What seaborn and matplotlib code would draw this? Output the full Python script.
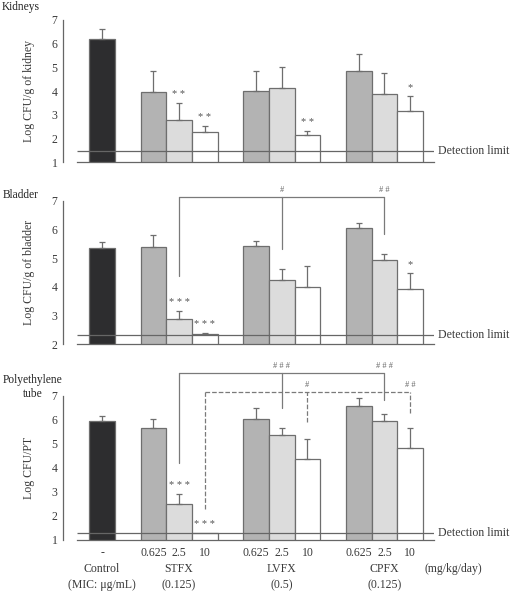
import numpy as np
import pandas as pd
import matplotlib.pyplot as plt
import seaborn as sns

sns.set_style('white')
plt.rcParams['font.family'] = ['Liberation Serif', 'DejaVu Serif']

# ---- data ----
drugs = ['Control', 'STFX', 'LVFX', 'CPFX']
mic_labels = ['(MIC: μg/mL)', '(0.125)', '(0.5)', '(0.125)']
bar_groups = ['Control', 'STFX', 'STFX', 'STFX', 'LVFX', 'LVFX', 'LVFX', 'CPFX', 'CPFX', 'CPFX']
bar_doses = ['-', '0.625', '2.5', '10', '0.625', '2.5', '10', '0.625', '2.5', '10']

kidney_mean = [6.18, 3.95, 2.80, 2.27, 4.02, 4.12, 2.14, 4.85, 3.90, 3.17]
kidney_err = [0.46, 0.92, 0.72, 0.25, 0.85, 0.91, 0.18, 0.72, 0.88, 0.63]
kidney_stars = ['', '', '* *', '* *', '', '', '* *', '', '', '*']

bladder_mean = [5.36, 5.39, 2.87, 2.35, 5.41, 4.23, 4.00, 6.04, 4.92, 3.93]
bladder_err = [0.21, 0.40, 0.29, 0.06, 0.17, 0.40, 0.71, 0.17, 0.24, 0.54]
bladder_stars = ['', '', '* * *', '* * *', '', '', '', '', '', '*']

pt_mean = [5.95, 5.64, 2.48, 1.30, 6.02, 5.35, 4.35, 6.57, 5.95, 4.84]
pt_err = [0.22, 0.40, 0.45, 0.00, 0.48, 0.32, 0.83, 0.35, 0.28, 0.80]
pt_stars = ['', '', '* * *', '* * *', '', '', '', '', '', '']

detection_limits = [1.48, 2.31, 1.30]

# brackets: (bar indices, top y, leg bottoms, marks, linestyle)
bladder_brackets = [([2, 5, 8], 7.14, [4.39, 5.32, 5.83], ['', '#', '# #'], '-')]
pt_brackets = [([2, 5, 8], 7.93, [4.19, 6.50, 6.81], ['', '# # #', '# # #'], '-'),
               ([3, 6, 9], 7.17, [2.29, 5.92, 6.29], ['', '#', '# #'], '--')]

dose_colors = {'-': '#2c2c30', '0.625': '#b3b3b3', '2.5': '#dcdcdc', '10': '#ffffff'}
EDGE = '#6e6e6e'
LINE = '#666666'
TEXT = '#3a3a3a'
FS = 8.5

keys = [f'{g}|{d}' for g, d in zip(bar_groups, bar_doses)]
order = []
for i, k in enumerate(keys):
    if i > 0 and bar_groups[i] != bar_groups[i - 1]:
        order.append(f'gap{i}')
    order.append(k)
palette = {k: dose_colors[d] for k, d in zip(keys, bar_doses)}
xs = [order.index(k) for k in keys]

XMIN, XLINE, XMAX = -1.52, -0.97, 12.93


def draw_panel(ax, mean, err, stars, ylim, limit, ylabel, brackets):
    df = pd.DataFrame({'bar': keys, 'value': mean})
    sns.barplot(data=df, x='bar', y='value', order=order, hue='bar', palette=palette,
                legend=False, width=1.0, errorbar=None, edgecolor=EDGE, linewidth=0.9,
                ax=ax)
    for x, m, e, s in zip(xs, mean, err, stars):
        if e > 0:
            ax.errorbar(x, m, yerr=[[0], [e]], fmt='none', ecolor=EDGE, elinewidth=0.9,
                        capsize=2.5, capthick=0.9, zorder=3)
        if s:
            ax.annotate(s, (x, m + e), xytext=(0, 6), textcoords='offset points',
                        ha='center', va='center', fontsize=7.5, color='#555555')

    for idx, top, legs, marks, ls in brackets:
        bx = [xs[i] for i in idx]
        ax.plot([bx[0], bx[-1]], [top, top], color='#7a7a7a', lw=0.9, ls=ls,
                clip_on=False, zorder=4)
        for x, b, mk in zip(bx, legs, marks):
            ax.plot([x, x], [b, top], color='#7a7a7a', lw=0.9, ls=ls, clip_on=False, zorder=4)
            if mk:
                ax.annotate(mk, (x, top), xytext=(0, 5), textcoords='offset points',
                            ha='center', va='center', fontsize=6, color='#666666',
                            annotation_clip=False)

    ax.hlines(limit, XLINE, XMAX, color=LINE, lw=0.9, zorder=5)
    ax.text(13.09, limit, 'Detection limit', va='center', ha='left', fontsize=FS,
            color=TEXT, clip_on=False)

    ax.set_xlim(XMIN, XMAX)
    ax.set_ylim(*ylim)
    ax.set_yticks(range(ylim[0], ylim[1] + 1))
    ax.tick_params(axis='y', direction='in', length=4, width=0.9, color=LINE,
                   labelsize=FS, labelcolor=TEXT, pad=4)
    sns.despine(ax=ax)
    ax.spines['left'].set_bounds(*ylim)
    ax.spines['bottom'].set_bounds(XLINE, XMAX)
    for sp in ('left', 'bottom'):
        ax.spines[sp].set_color(LINE)
        ax.spines[sp].set_linewidth(0.9)
    ax.set_xticks([])
    ax.set_xlabel('')
    ax.set_ylabel(ylabel, fontsize=FS, color=TEXT, va='center')
    ax.yaxis.set_label_coords(-0.092, 0.5)


fig = plt.figure(figsize=(5.17, 5.98), dpi=100)
left, width = 63 / 517, 371 / 517
ax1 = fig.add_axes([left, 1 - 162.3 / 598, width, 142.3 / 598])
ax2 = fig.add_axes([left, 1 - 344.3 / 598, width, 143.6 / 598])
ax3 = fig.add_axes([left, 1 - 540 / 598, width, 144.3 / 598])

draw_panel(ax1, kidney_mean, kidney_err, kidney_stars, (1, 7), detection_limits[0],
           'Log CFU/g of kidney', [])
draw_panel(ax2, bladder_mean, bladder_err, bladder_stars, (2, 7), detection_limits[1],
           'Log CFU/g of bladder', bladder_brackets)
draw_panel(ax3, pt_mean, pt_err, pt_stars, (1, 7), detection_limits[2],
           'Log CFU/PT', pt_brackets)

# bottom labels
for x, d in zip(xs, bar_doses):
    ax3.annotate(d, (x, 0), xycoords=('data', 'axes fraction'), xytext=(0, -9.4),
                 textcoords='offset points', ha='center', va='center', fontsize=FS,
                 color=TEXT, annotation_clip=False)
group_x = [np.mean([x for x, g in zip(xs, bar_groups) if g == dr]) for dr in drugs]
for gx, dr, mic in zip(group_x, drugs, mic_labels):
    ax3.annotate(dr, (gx, 0), xycoords=('data', 'axes fraction'), xytext=(0, -20.9),
                 textcoords='offset points', ha='center', va='center', fontsize=FS,
                 color=TEXT, annotation_clip=False)
    ax3.annotate(mic, (gx, 0), xycoords=('data', 'axes fraction'), xytext=(0, -32.4),
                 textcoords='offset points', ha='center', va='center', fontsize=FS,
                 color=TEXT, annotation_clip=False)
ax3.annotate('(mg/kg/day)', (13.67, 0), xycoords=('data', 'axes fraction'),
             xytext=(0, -20.9), textcoords='offset points', ha='center', va='center',
             fontsize=FS, color=TEXT, annotation_clip=False)

# panel titles
TFS = 8.3
fig.text(21 / 517, 1 - 7 / 598, 'Kidneys', ha='center', va='center', fontsize=TFS,
         color='#222222')
fig.text(21 / 517, 1 - 195 / 598, 'Bladder', ha='center', va='center', fontsize=TFS,
         color='#222222')
fig.text(32.5 / 517, 1 - 380 / 598, 'Polyethylene', ha='center', va='center',
         fontsize=TFS, color='#222222')
fig.text(32.5 / 517, 1 - 394 / 598, 'tube', ha='center', va='center',
         fontsize=TFS, color='#222222')

fig.savefig('out.png', dpi=100)
